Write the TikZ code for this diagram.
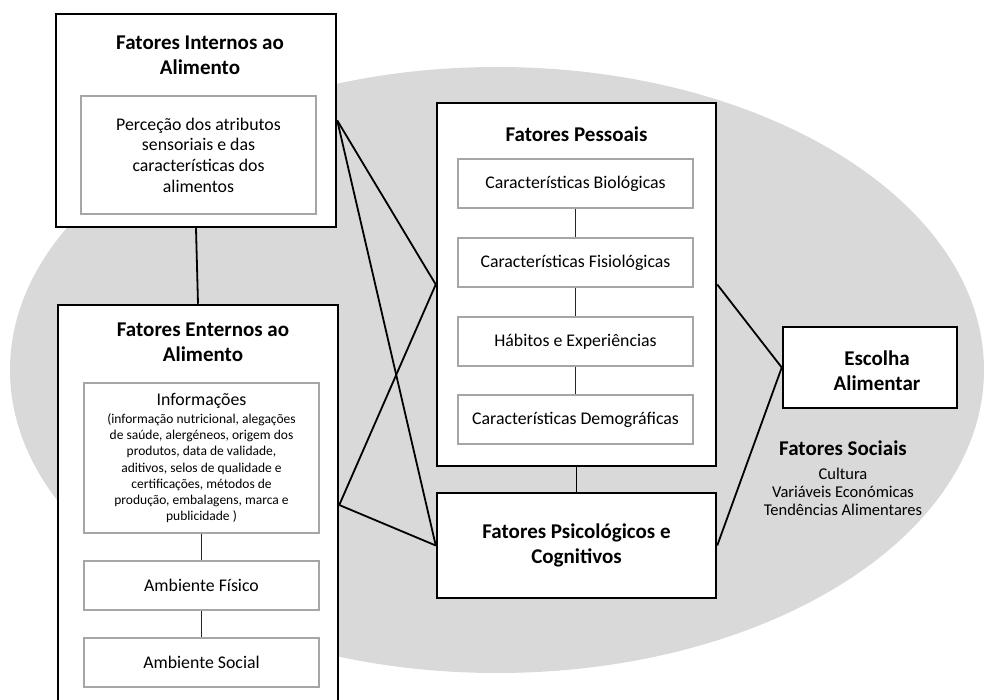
\documentclass[tikz,border=0pt]{standalone}
\usepackage{fontspec}
\setmainfont{Carlito}
\definecolor{fundo}{HTML}{D9D9D9}
\definecolor{borda}{HTML}{A6A6A6}
\tikzset{
 caixa/.style={draw,line width=2.5pt,fill=white,inner sep=0pt},
 subcaixa/.style={draw=borda,line width=1.2pt,fill=white,inner sep=0pt,minimum width=235pt,text width=235pt,align=flush center,font=\fontsize{17.8}{20.7}\selectfont},
 titulo/.style={align=center,font=\fontsize{21}{25}\selectfont\bfseries},
 liga/.style={line width=1.8pt},
 subliga/.style={line width=1.6pt,black!85},
}
\begin{document}
\begin{tikzpicture}[x=1pt,y=-1pt]
 \clip (0,0) rectangle (988,700); %画像の範囲
 \fill[fundo] (497,370) ellipse [x radius=487,y radius=303]; %背景の楕円
 % 左上の箱
 \node[caixa,minimum width=280pt,minimum height=213pt] (int) at (196,120.5) {};
 \node[titulo] (intT) at (200,55) {Fatores Internos ao\\Alimento};
 \node[subcaixa,minimum height=118pt] (perc) at (198.5,155) {Perceção dos atributos\\sensoriais e das\\características dos\\alimentos\\[7pt]};
 % 左下の箱
 \node[caixa,minimum width=280pt,minimum height=400pt] (ext) at (198,505) {};
 \node[titulo] (extT) at (203,342) {Fatores Enternos ao\\Alimento};
 \node[subcaixa,minimum height=150pt] (info) at (201.5,458) {Informações\par\vspace{2pt}{\fontsize{13.5}{16.2}\selectfont
  (informação nutricional, alegações\\de saúde, alergéneos, origem dos\\produtos, data de validade,\\aditivos, selos de qualidade e\\certificações, métodos de\\produção, embalagens, marca e\\publicidade )\par}\vspace{-8pt}};
 \node[subcaixa,minimum height=49pt] (fis) at (201.5,585.5) {Ambiente Físico};
 \node[subcaixa,minimum height=49pt] (amb) at (201.5,662.5) {Ambiente Social};
 \draw[subliga] (info)--(fis); %情報→物理環境
 \draw[subliga] (fis)--(amb); %物理環境→社会環境
 % 中央の箱
 \node[caixa,minimum width=279pt,minimum height=363pt] (pes) at (576.5,284.5) {};
 \node[titulo] (pesT) at (576.5,134) {Fatores Pessoais};
 \node[subcaixa,minimum height=49pt] (bio) at (575.5,183.5) {Características Biológicas};
 \node[subcaixa,minimum height=49pt] (fisio) at (575.5,262.5) {Características Fisiológicas};
 \node[subcaixa,minimum height=49pt] (hab) at (575.5,341.5) {Hábitos e Experiências};
 \node[subcaixa,minimum height=49pt] (dem) at (575.5,419.5) {Características Demográficas};
 \draw[subliga] (bio)--(fisio);
 \draw[subliga] (fisio)--(hab);
 \draw[subliga] (hab)--(dem);
 \node[caixa,titulo,minimum width=279pt,minimum height=105pt] (psi) at (576.5,545.5) {Fatores Psicológicos e\\Cognitivos};
 % 右側
 \node[caixa,minimum width=174pt,minimum height=81pt] (esc) at (870,367.5) {};
 \node[titulo] (escT) at (877,371) {Escolha\\Alimentar};
 \node[text width=200pt,align=flush center,font=\fontsize{16.5}{18}\selectfont] (soc) at (843,478) {{\fontsize{21}{18}\selectfont\bfseries Fatores Sociais\par}\vspace{6pt}Cultura\\Variáveis Económicas\\Tendências Alimentares};
 % 線
 \draw[liga] (int.south)--(ext.north); %上下の箱をつなぐ
 \draw[liga] (int.east)--(pes.west);
 \draw[liga] (int.east)--(psi.west);
 \draw[liga] (ext.east)--(pes.west);
 \draw[liga] (ext.east)--(psi.west);
 \draw[liga] (pes.south)--(psi.north);
 \draw[liga] (pes.east)--(esc.west);
 \draw[liga] (psi.east)--(esc.west);
\end{tikzpicture}
\end{document}
